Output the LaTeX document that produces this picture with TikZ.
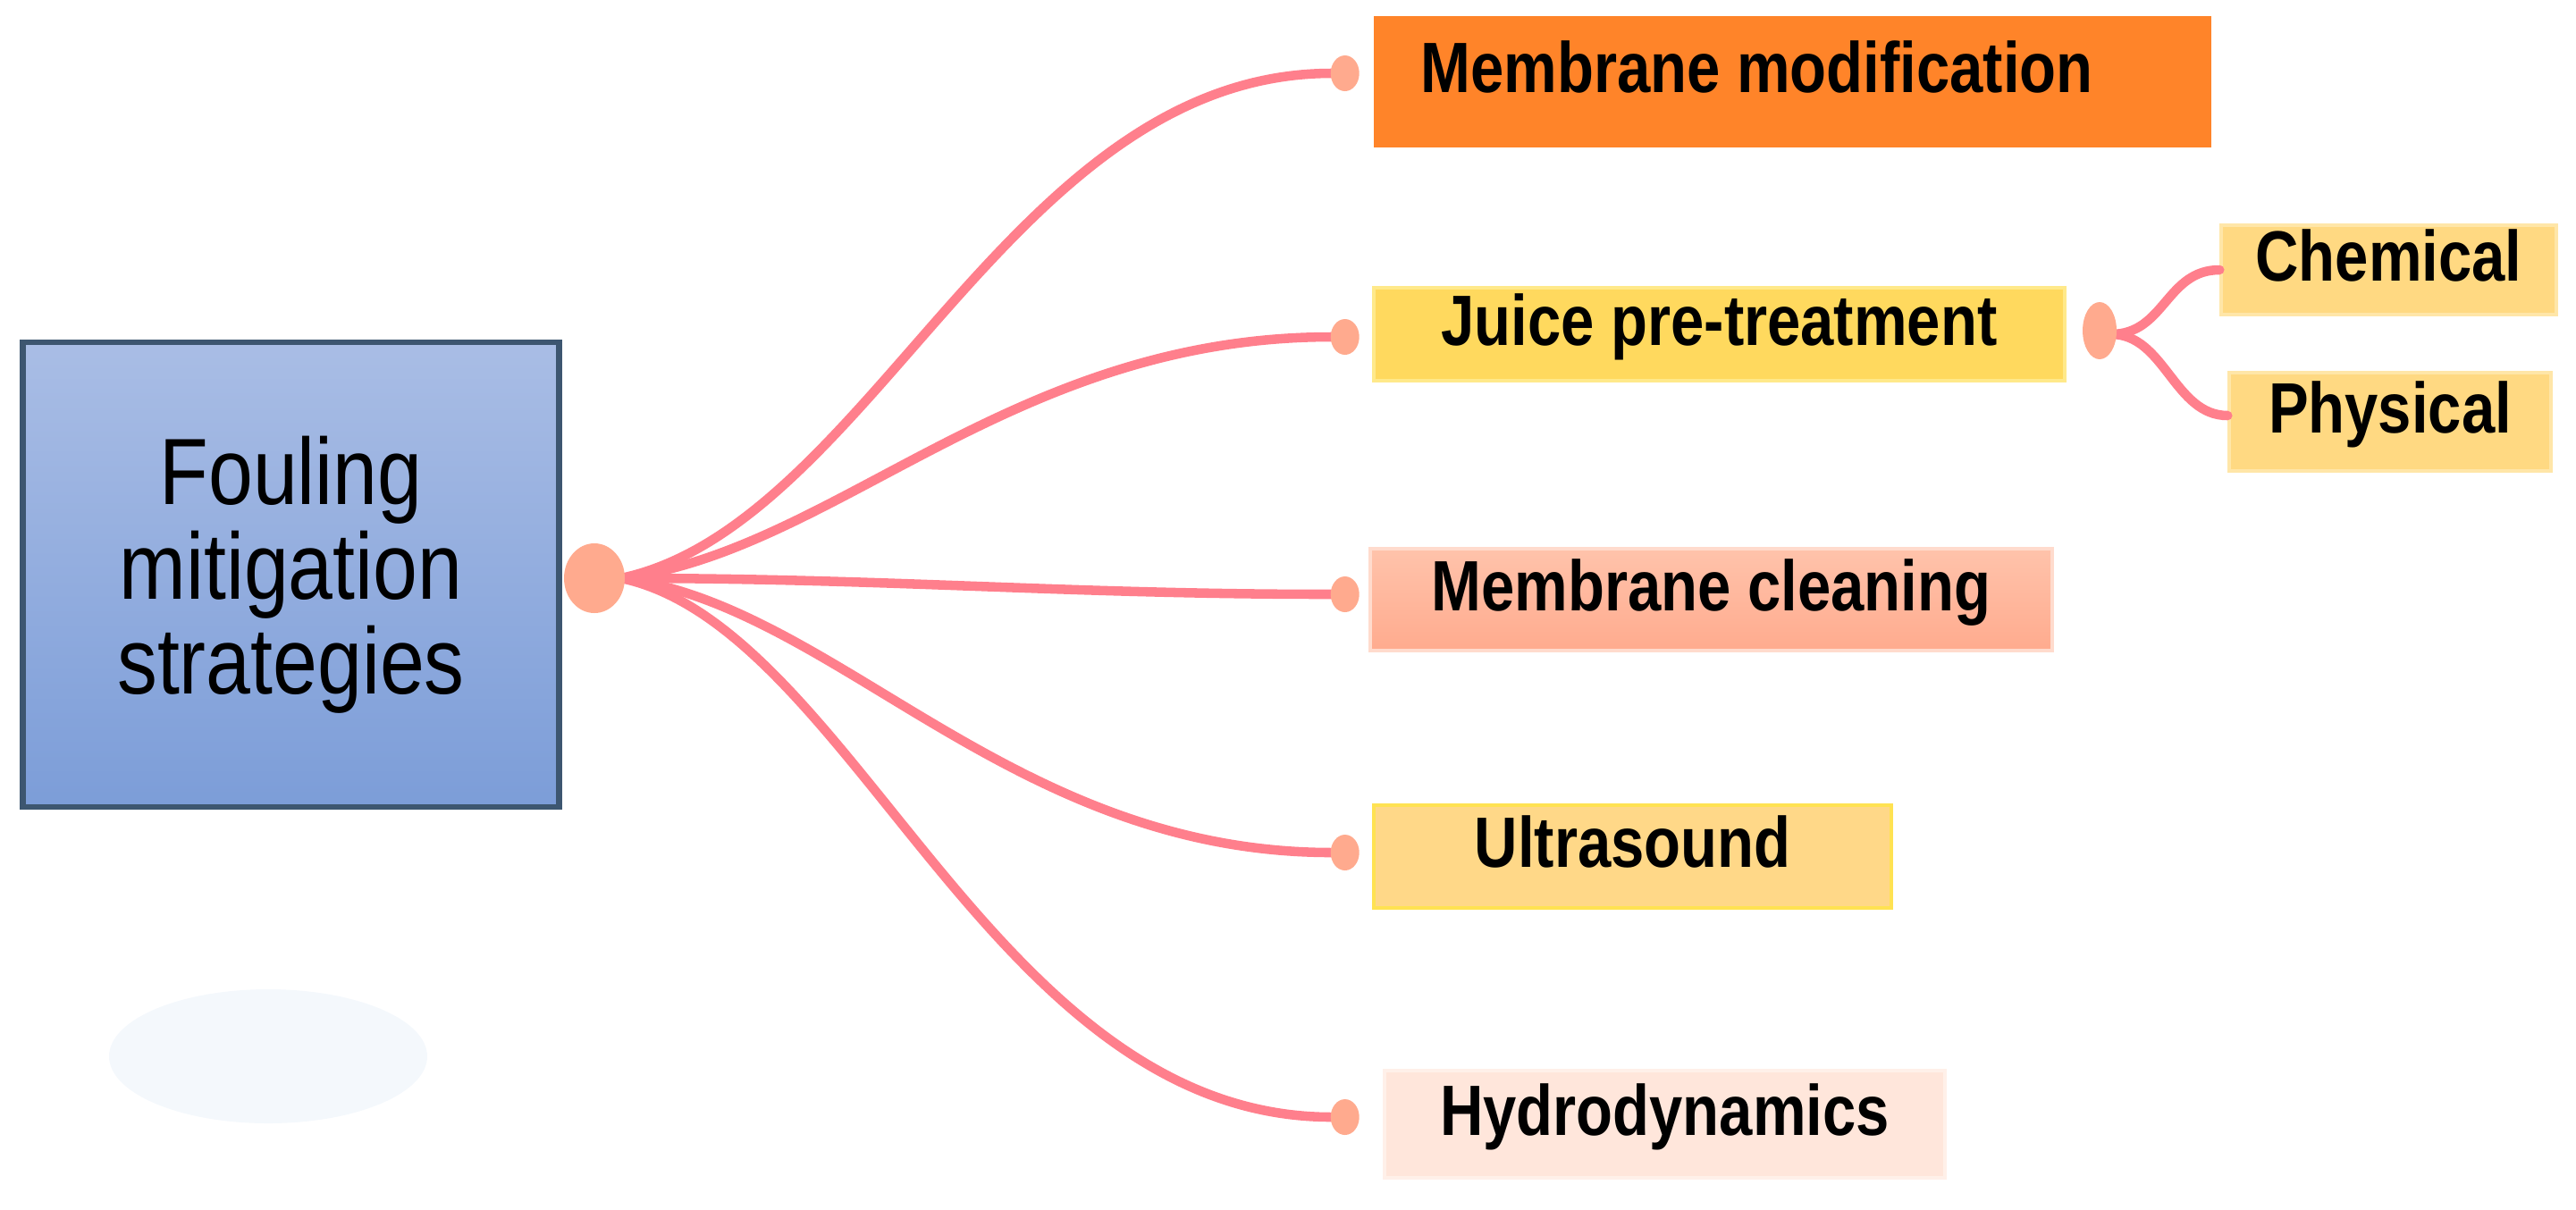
\documentclass[tikz,border=0pt]{standalone}
\usepackage{fontspec}
\setmainfont{Liberation Sans}
\newfontfamily\rootfont[FakeStretch=0.85]{Liberation Sans}
\newfontfamily\leaffont[FakeStretch=0.84]{Liberation Sans}
\usepackage{xcolor}
\usepackage{tikz}
\usetikzlibrary{arrows.meta,positioning,calc,shapes.geometric}
\definecolor{rootTop}{HTML}{A9BDE5}
\definecolor{rootBot}{HTML}{7C9DD8}
\definecolor{rootEdge}{HTML}{3D5670}
\definecolor{linkPink}{HTML}{FF7F8C}
\definecolor{knobSalmon}{HTML}{FFAA8E}
\definecolor{modOrange}{HTML}{FF8429}
\definecolor{juiceYellow}{HTML}{FFD95E}
\definecolor{juiceEdge}{HTML}{FFE98A}
\definecolor{subYellow}{HTML}{FFD982}
\definecolor{subEdge}{HTML}{FFE6A8}
\definecolor{cleanTop}{HTML}{FFC3AB}
\definecolor{cleanBot}{HTML}{FFAB8E}
\definecolor{sonicFill}{HTML}{FFD888}
\definecolor{sonicEdge}{HTML}{FFE252}
\definecolor{hydroFill}{HTML}{FFE6DB}
\definecolor{hydroEdge}{HTML}{FFF0E9}
\definecolor{paleBlue}{HTML}{F4F8FC}

\begin{document}
\begin{tikzpicture}[
  root/.style={rectangle,draw=rootEdge,line width=1.8pt,top color=rootTop,bottom color=rootBot,
    minimum width=6.0cm,minimum height=5.2cm,align=center,inner sep=0pt,
    font=\rootfont\fontsize{30}{30.2}\selectfont},
  leaf/.style={rectangle,line width=1pt,inner sep=0pt,text height=0.6cm,text depth=0.36cm,
    font=\leaffont\bfseries\fontsize{22.7}{26}\selectfont},
  knob/.style={ellipse,fill=knobSalmon,inner sep=0pt,minimum width=0.32cm,minimum height=0.40cm},
  link/.style={draw=linkPink,line width=3pt,line cap=round}]
\useasboundingbox (0,0) rectangle (28.82,-13.53);
% --- shadow blob ---
\fill[paleBlue] (3.0,-11.82) ellipse (1.78 and 0.75);
% --- root ---
\node[root] (root) at (3.255,-6.43) {Fouling\\mitigation\\strategies};
% --- leaves ---
\node[leaf,fill=modOrange,minimum width=9.37cm,minimum height=1.47cm] (mod) at (20.055,-0.915) {Membrane modification\kern0.8cm};
\node[leaf,fill=juiceYellow,draw=juiceEdge,minimum width=7.73cm,minimum height=1.04cm] (juice) at (19.235,-3.74) {Juice pre-treatment};
\node[leaf,top color=cleanTop,bottom color=cleanBot,draw=cleanTop!60!white,minimum width=7.63cm,minimum height=1.14cm] (clean) at (19.145,-6.71) {Membrane cleaning};
\node[leaf,fill=sonicFill,draw=sonicEdge,minimum width=5.79cm,minimum height=1.15cm] (sonic) at (18.265,-9.585) {Ultrasound};
\node[leaf,fill=hydroFill,draw=hydroEdge,minimum width=6.27cm,minimum height=1.2cm] (hydro) at (18.625,-12.58) {Hydrodynamics};
% --- juice sub-branches ---
\node[leaf,fill=subYellow,draw=subEdge,minimum width=3.75cm,minimum height=1.0cm] (chem) at (26.725,-3.02) {Chemical};
\node[leaf,fill=subYellow,draw=subEdge,minimum width=3.6cm,minimum height=1.1cm] (phys) at (26.74,-4.72) {Physical};
% --- links ---
\coordinate (fan) at (6.95,-6.47);
\draw[link] (fan) .. controls +(2.8,0.6) and +(-3.6,0) .. (14.9,-0.82) coordinate (emod);
\draw[link] (fan) .. controls +(2.4,0.3) and +(-3.6,0) .. (14.9,-3.77) coordinate (ejuice);
\draw[link] (fan) .. controls +(3.0,0) and +(-3.0,0) .. (14.9,-6.65) coordinate (eclean);
\draw[link] (fan) .. controls +(2.4,-0.3) and +(-3.6,0) .. (14.9,-9.54) coordinate (esonic);
\draw[link] (fan) .. controls +(2.6,-0.55) and +(-3.8,0) .. (14.9,-12.5) coordinate (ehydro);
\coordinate (subfan) at (23.62,-3.74);
\draw[link] (subfan) .. controls +(0.6,0) and +(-0.6,0) .. (chem.west);
\draw[link] (subfan) .. controls +(0.6,0) and +(-0.6,0) .. ($(phys.west)+(0,0.07)$);
% --- knobs ---
\node[knob,minimum width=0.68cm,minimum height=0.78cm] (hub) at (6.65,-6.47) {};
\node[knob,minimum width=0.38cm,minimum height=0.64cm] (ksub) at (23.49,-3.70) {};
\foreach \k in {mod,juice,clean,sonic,hydro}
  \node[knob,right=-0.02cm of e\k] (k\k) {};
\end{tikzpicture}
\end{document}
